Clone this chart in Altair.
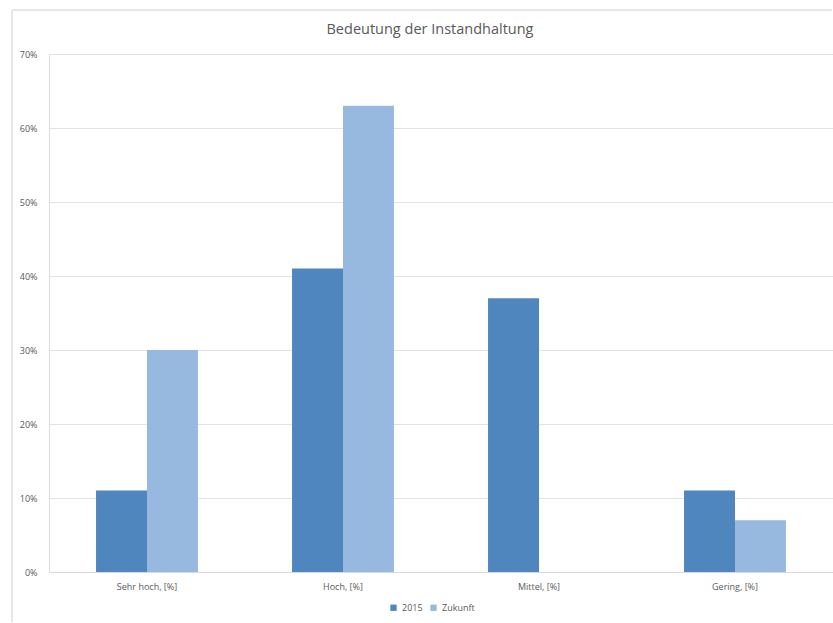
import altair as alt
import pandas as pd

categories = ["Sehr hoch, [%]", "Hoch, [%]", "Mittel, [%]", "Gering, [%]"]
series = ["2015", "Zukunft"]
values_2015 = [0.11, 0.41, 0.37, 0.11]
values_zukunft = [0.30, 0.63, 0.00, 0.07]
colors = ["#4F86BE", "#97B8DF"]
title_text = "Bedeutung der Instandhaltung"

rows = []
for c, a, b in zip(categories, values_2015, values_zukunft):
    rows.append({"Kategorie": c, "Serie": "2015", "Wert": a})
    rows.append({"Kategorie": c, "Serie": "Zukunft", "Wert": b})
df = pd.DataFrame(rows)

FONT = "Open Sans"
GRAY = "#595959"

bars = alt.Chart(df).mark_bar().encode(
    x=alt.X("Kategorie:N", sort=categories,
            scale=alt.Scale(paddingInner=0.48, paddingOuter=0.24),
            axis=alt.Axis(title=None, labelAngle=0, ticks=False, domain=True,
                          domainColor="#d9d9d9", labelPadding=10,
                          labelFontSize=9, labelColor=GRAY, labelFont=FONT,
                          grid=False)),
    xOffset=alt.XOffset("Serie:N", sort=series, scale=alt.Scale(paddingInner=0, paddingOuter=0)),
    y=alt.Y("Wert:Q",
            scale=alt.Scale(domain=[0, 0.7]),
            axis=alt.Axis(title=None, format=".0%", values=[0, 0.1, 0.2, 0.3, 0.4, 0.5, 0.6, 0.7],
                          ticks=False, domain=False, labelPadding=12,
                          labelFontSize=9, labelColor=GRAY, labelFont=FONT,
                          grid=True, gridColor="#e3e3e3", gridWidth=1)),
    color=alt.Color("Serie:N", sort=series,
                    scale=alt.Scale(domain=series, range=colors),
                    legend=alt.Legend(title=None, orient="none", direction="horizontal",
                                      legendX=340, legendY=549,
                                      symbolType="square", symbolSize=40,
                                      labelFontSize=9, labelColor=GRAY, labelFont=FONT,
                                      columnPadding=6, symbolStrokeWidth=0)),
)

title = alt.Chart(pd.DataFrame({"t": [title_text]})).mark_text(
    font=FONT, fontSize=14.5, color=GRAY, align="center", baseline="middle"
).encode(text="t:N", x=alt.value(381), y=alt.value(-24))

border_left = alt.Chart(df).mark_rule(color="#e6e6e6", strokeWidth=1).encode(
    x=alt.value(-37), y=alt.value(-44), y2=alt.value(568)
)
border_top = alt.Chart(df).mark_rule(color="#e6e6e6", strokeWidth=1).encode(
    x=alt.value(-37), x2=alt.value(783), y=alt.value(-44)
)

chart = alt.layer(border_left, border_top, title, bars).properties(
    width=784,
    height=518,
    padding={"left": 49, "top": 54, "right": 0, "bottom": 51},
    autosize=alt.AutoSizeParams(type="none"),
).configure_view(stroke=None).configure(background="white")

chart.save("out.html", embed_options={"renderer": "svg", "actions": False})
